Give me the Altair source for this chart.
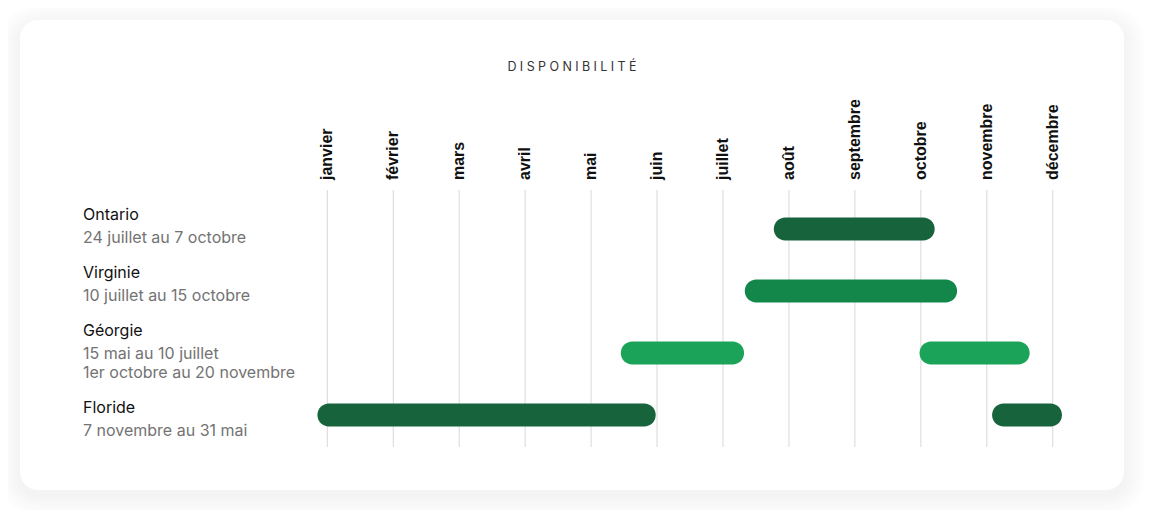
import altair as alt
import pandas as pd

# ---- data ----
months = ["janvier", "février", "mars", "avril", "mai", "juin", "juillet",
          "août", "septembre", "octobre", "novembre", "décembre"]
regions = ["Ontario", "Virginie", "Géorgie", "Floride"]
region_periods = ["24 juillet au 7 octobre",
                  "10 juillet au 15 octobre",
                  "15 mai au 10 juillet\n1er octobre au 20 novembre",
                  "7 novembre au 31 mai"]
# bar segments, in month units (0 = janvier, 11 = décembre)
seg_region = ["Ontario", "Virginie", "Géorgie", "Géorgie", "Floride", "Floride"]
seg_start = [6.77, 6.33, 4.45, 8.98, -0.15, 10.08]
seg_end = [9.21, 9.55, 6.32, 10.65, 4.98, 11.14]
region_colors = ["#17643c", "#13874a", "#1ba35a", "#17643c"]
title_text = "DISPONIBILITÉ"

# ---- layout ----
W, H = 1104, 470
X0, STEP = 307.3, 65.95
xscale = alt.Scale(domain=[-X0 / STEP, (W - X0) / STEP], range=[0, W], nice=False, zero=False)

months_df = pd.DataFrame({"m": months, "i": list(range(len(months)))})
seg_df = pd.DataFrame({"region": seg_region, "start": seg_start, "end": seg_end})

# label rows (flow layout)
rows = []
cur = 195
for name, per in zip(regions, region_periods):
    rows.append({"txt": name, "py": cur, "kind": "name"})
    lines = per.split("\n")
    y = cur + 23
    for ln in lines:
        rows.append({"txt": ln, "py": y, "kind": "sub"})
        y += 19
    cur = y - 19 + 35
labels_df = pd.DataFrame(rows)

one = pd.DataFrame({"a": [0]})

layers = []
# soft shadow
for k in range(2, 24, 2):
    layers.append(
        alt.Chart(one).mark_rect(color="#000000", opacity=0.0035, cornerRadius=18 + k).encode(
            x=alt.value(-k), x2=alt.value(W + k),
            y=alt.value(-k + 5), y2=alt.value(H + k + 5))
    )
# card
layers.append(
    alt.Chart(one).mark_rect(color="#ffffff", cornerRadius=18).encode(
        x=alt.value(0), x2=alt.value(W), y=alt.value(0), y2=alt.value(H))
)

grid = alt.Chart(months_df).mark_rule(color="#d8d8d8", strokeWidth=1).encode(
    x=alt.X("i:Q", scale=xscale, axis=None),
    y=alt.value(170), y2=alt.value(427))

month_text = alt.Chart(months_df).mark_text(
    angle=270, align="left", baseline="middle", font="Liberation Sans",
    fontSize=16, fontWeight="bold", color="#111111").encode(
    x=alt.X("i:Q", scale=xscale, axis=None),
    y=alt.value(160), text="m:N")

bars = alt.Chart(seg_df).mark_bar(height=23, cornerRadius=11.5).encode(
    x=alt.X("start:Q", scale=xscale, axis=None),
    x2="end:Q",
    y=alt.Y("region:N", scale=alt.Scale(type="point", domain=regions, range=[209, 395], padding=0), axis=None),
    color=alt.Color("region:N", scale=alt.Scale(domain=regions, range=region_colors), legend=None))

names = alt.Chart(labels_df).transform_filter(alt.datum.kind == "name").mark_text(
    align="left", baseline="middle", font="Inter", fontSize=16, fontWeight="normal", color="#111111").encode(
    x=alt.value(63), y=alt.Y("py:Q", scale=None, axis=None), text="txt:N")

subs = alt.Chart(labels_df).transform_filter(alt.datum.kind == "sub").mark_text(
    align="left", baseline="middle", font="Inter", fontSize=16, color="#737373").encode(
    x=alt.value(63), y=alt.Y("py:Q", scale=None, axis=None), text="txt:N")

title = alt.Chart(one).mark_text(
    align="center", baseline="middle", font="Inter", fontSize=12.5, fontWeight="normal", color="#333333").encode(
    x=alt.value(W / 2), y=alt.value(47), text=alt.value("\u2009\u200a".join(title_text)))

chart = alt.layer(*layers, grid, month_text, bars, names, subs, title).properties(
    width=W, height=H,
    autosize=alt.AutoSizeParams(type="none"),
    padding={"left": 12, "top": 12, "right": 20, "bottom": 20},
    background="#ffffff",
).configure_view(stroke=None)

chart.save("out.html", embed_options={"renderer": "svg", "actions": False})
